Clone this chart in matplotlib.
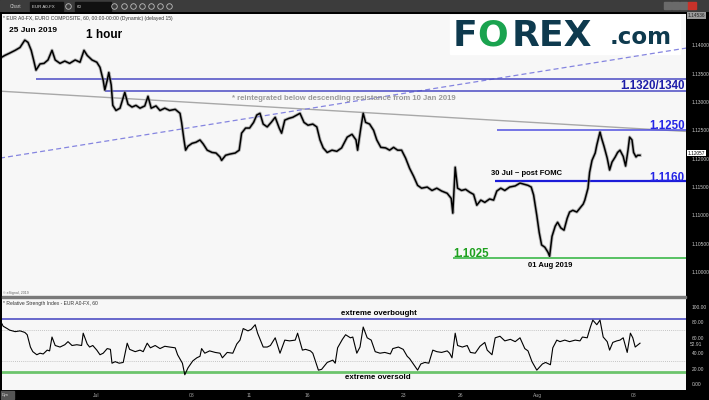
import matplotlib
matplotlib.use('Agg')
import matplotlib.pyplot as plt
from matplotlib.patches import Rectangle
from matplotlib.ticker import FormatStrFormatter

plt.rcParams['font.family'] = ['Liberation Sans', 'DejaVu Sans']

# hour index since Mon 24 Jun 2019 00:00, weekends skipped
price_hours = [0, 6, 12, 19, 25, 31, 35, 39, 42, 45,
               50, 55, 60, 65, 69, 75, 81, 87, 94, 100,
               105, 109, 115, 121, 125, 129, 131, 134, 136, 139,
               141, 145, 150, 156, 160, 165, 170, 175, 181, 185,
               189, 195, 200, 206, 212, 219, 225, 227, 230, 232,
               235, 240, 245, 250, 254, 259, 265, 270, 275, 277,
               282, 287, 294, 299, 302, 307, 312, 317, 321, 325,
               329, 334, 339, 344, 349, 352, 356, 361, 366, 371,
               375, 380, 385, 391, 396, 400, 404, 409, 415, 421,
               427, 434, 440, 445, 447, 451, 454, 457, 462, 467,
               471, 476, 482, 487, 492, 497, 502, 507, 512, 517,
               522, 527, 534, 540, 546, 552, 559, 564, 566, 569,
               572, 577, 582, 587, 592, 596, 601, 606, 612, 617,
               621, 626, 631, 637, 644, 650, 655, 660, 664, 667,
               671, 674, 677, 681, 685, 687, 690, 694, 697, 701,
               705, 709, 712, 716, 721, 725, 729, 731, 735, 737,
               740, 744, 746, 750, 752, 755, 759, 762, 765, 769,
               772, 775, 779, 782, 785, 787, 790, 792, 795, 797,
               800]
price_close = [1.1377, 1.1382, 1.1386, 1.1391, 1.1396, 1.1409, 1.1405, 1.1391, 1.1374, 1.1356,
               1.1367, 1.1368, 1.1374, 1.1391, 1.1374, 1.1368, 1.1372, 1.1368, 1.1374, 1.1370,
               1.1391, 1.1382, 1.1374, 1.1370, 1.1361, 1.1338, 1.1321, 1.1338, 1.1352, 1.1330,
               1.1294, 1.1285, 1.1289, 1.1317, 1.1296, 1.1291, 1.1294, 1.1289, 1.1293, 1.1310,
               1.1289, 1.1293, 1.1285, 1.1289, 1.1285, 1.1287, 1.1280, 1.1264, 1.1233, 1.1215,
               1.1222, 1.1227, 1.1229, 1.1233, 1.1226, 1.1215, 1.1211, 1.1210, 1.1203, 1.1197,
               1.1206, 1.1208, 1.1210, 1.1215, 1.1245, 1.1254, 1.1254, 1.1264, 1.1277, 1.1280,
               1.1261, 1.1256, 1.1264, 1.1273, 1.1254, 1.1245, 1.1268, 1.1271, 1.1273, 1.1277,
               1.1280, 1.1264, 1.1259, 1.1261, 1.1256, 1.1233, 1.1219, 1.1211, 1.1215, 1.1213,
               1.1219, 1.1238, 1.1243, 1.1233, 1.1215, 1.1254, 1.1280, 1.1264, 1.1261, 1.1250,
               1.1233, 1.1220, 1.1219, 1.1215, 1.1220, 1.1215, 1.1215, 1.1201, 1.1183, 1.1169,
               1.1153, 1.1148, 1.1150, 1.1144, 1.1148, 1.1143, 1.1139, 1.1130, 1.1104, 1.1185,
               1.1148, 1.1144, 1.1146, 1.1141, 1.1137, 1.1118, 1.1127, 1.1123, 1.1129, 1.1127,
               1.1143, 1.1148, 1.1144, 1.1150, 1.1152, 1.1157, 1.1155, 1.1153, 1.1150, 1.1136,
               1.1100, 1.1070, 1.1048, 1.1044, 1.1035, 1.1028, 1.1063, 1.1081, 1.1088, 1.1078,
               1.1074, 1.1095, 1.1106, 1.1109, 1.1106, 1.1113, 1.1120, 1.1127, 1.1148, 1.1176,
               1.1197, 1.1210, 1.1224, 1.1247, 1.1236, 1.1222, 1.1201, 1.1180, 1.1194, 1.1203,
               1.1211, 1.1215, 1.1204, 1.1187, 1.1215, 1.1238, 1.1233, 1.1211, 1.1203, 1.1206,
               1.1206]

rsi_hours = [0, 4, 9, 12, 19, 25, 31, 34, 38, 41,
             46, 50, 54, 59, 62, 65, 69, 75, 81, 85,
             90, 96, 102, 104, 109, 112, 116, 121, 125, 129,
             134, 138, 140, 144, 149, 154, 159, 162, 169, 175,
             179, 184, 188, 194, 200, 206, 212, 219, 222, 228,
             231, 235, 241, 246, 250, 252, 256, 262, 269, 275,
             278, 284, 291, 296, 300, 304, 310, 314, 319, 322,
             329, 334, 338, 344, 350, 356, 362, 369, 372, 378,
             382, 388, 391, 398, 402, 409, 416, 419, 422, 428,
             432, 438, 441, 446, 450, 454, 459, 464, 469, 475,
             481, 488, 491, 498, 504, 509, 512, 518, 522, 526,
             531, 536, 541, 546, 552, 559, 562, 565, 569, 572,
             578, 584, 588, 594, 600, 606, 609, 615, 619, 625,
             631, 638, 644, 650, 656, 660, 665, 671, 678, 682,
             688, 691, 696, 700, 706, 712, 719, 725, 728, 734,
             738, 741, 746, 750, 754, 759, 762, 766, 771, 775,
             779, 784, 788, 791, 794, 800]
rsi_values = [83, 75, 72, 70, 68, 69, 67, 64, 48, 42,
              38, 40, 39, 44, 43, 61, 50, 48, 51, 55,
              50, 51, 50, 66, 52, 48, 50, 44, 38, 40,
              46, 45, 27, 29, 27, 28, 53, 45, 42, 44,
              42, 53, 47, 50, 46, 49, 48, 47, 38, 27,
              12, 21, 30, 34, 36, 46, 40, 43, 41, 40,
              34, 41, 40, 52, 57, 72, 69, 71, 77, 66,
              48, 48, 50, 60, 40, 57, 56, 57, 66, 44,
              45, 43, 40, 18, 19, 28, 31, 27, 47, 58,
              64, 60, 61, 40, 48, 74, 60, 57, 42, 40,
              41, 39, 46, 48, 45, 36, 33, 24, 18, 26,
              28, 27, 44, 42, 41, 43, 40, 34, 66, 50,
              48, 50, 41, 40, 49, 54, 44, 38, 60, 62,
              56, 58, 55, 60, 46, 43, 29, 18, 26, 28,
              25, 47, 57, 55, 57, 55, 57, 56, 61, 60,
              74, 83, 77, 83, 61, 55, 44, 54, 56, 57,
              60, 41, 66, 60, 48, 53]

tick_hours = [120, 240, 312, 384, 504, 576, 672, 792]
tick_labels = ['Jul', '08', '11', '16', '23', '26', 'Aug', '08']

price_ticks = [1.10, 1.105, 1.11, 1.115, 1.12, 1.125, 1.13, 1.135, 1.14]
rsi_ticks = [0, 20, 40, 60, 80, 100]

level_prices = [1.1340, 1.1320, 1.1250, 1.1160, 1.1025]
level_start = [45, 131, 621, 619, 566]
level_colors = ['#4a4ac4', '#4a4ac4', '#5050e0', '#1c1cd8', '#3cb84a']
level_widths = [1.1, 1.1, 1.1, 1.6, 1.2]

resist_hours = [0, 858]
resist_prices = [1.1319, 1.1248]
support_hours = [0, 858]
support_prices = [1.1201, 1.1395]

last_price = 1.12057
last_rsi = 52.91
top_price = 1.14536

W, H = 709, 400


def rect(x0, y0, x1, y1):
    return [x0 / W, 1 - y1 / H, (x1 - x0) / W, (y1 - y0) / H]


fig = plt.figure(figsize=(7.09, 4.0), dpi=100, facecolor='black')

# toolbar
tb = fig.add_axes(rect(0, 0, 709, 12))
tb.set_xlim(0, 709)
tb.set_ylim(12, 0)
tb.axis('off')
tb.add_patch(Rectangle((0, 0), 709, 12, color='#3c3c3c'))
tb.text(10, 6.5, 'Chart', color='#c8c8c8', fontsize=3.4, va='center')
tb.add_patch(Rectangle((30, 2), 33, 8.5, color='#111111'))
tb.text(32, 6.5, 'EUR A0-FX', color='#dddddd', fontsize=3.2, va='center')
tb.add_patch(Rectangle((75, 2), 36, 8.5, color='#111111'))
tb.text(77, 6.5, '60', color='#dddddd', fontsize=3.2, va='center')
for cx in [68, 114, 124, 133, 142, 151, 160, 169]:
    tb.plot(cx, 6.2, marker='o', ms=4, mfc='none', mec='#bdbdbd', mew=0.6)
for cx in [664, 672, 680]:
    tb.add_patch(Rectangle((cx, 2), 6.5, 7, color='#6a6a6a'))
tb.add_patch(Rectangle((688, 2), 8, 7, color='#c8322a'))

# price panel
ax = fig.add_axes(rect(2, 14, 686, 296))
ax.set_facecolor('#f7f7f7')
for s in ax.spines.values():
    s.set_visible(False)
ax.set_xlim(2.5, 857.5)
ax.set_ylim(1.0958, 1.1455)
ax.set_xticks([])
ax.yaxis.tick_right()
ax.set_yticks(price_ticks)
ax.yaxis.set_major_formatter(FormatStrFormatter('%.5f'))
ax.tick_params(axis='y', length=0, pad=4, labelsize=3.5, labelcolor='#c8c8c8')

ax.plot(resist_hours, resist_prices, color='#a8a8a8', lw=1.0, zorder=2)
ax.plot(support_hours, support_prices, color='#8585e0', lw=0.9, ls=(0, (4, 2.5)), zorder=2)
for p, st, c, w in zip(level_prices, level_start, level_colors, level_widths):
    ax.hlines(p, st, 857.5, color=c, lw=w, zorder=2)

ax.plot(price_hours, price_close, color='#8a8a8a', lw=2.4, alpha=0.6, zorder=3)
ax.plot(price_hours, price_close, color='black', lw=1.1, zorder=4)

bold = dict(fontweight='bold')
ax.text(11, 1.14264, '25 Jun 2019', fontsize=6, va='center', **bold)
ax.text(107, 1.14176, '1 hour', fontsize=8.5, va='center', **bold)
ax.text(290, 1.13066, '* reintegrated below descending resistance from 10 Jan 2019',
        fontsize=5.6, color='#9a9a9a', va='center', **bold)
ax.text(856, 1.1322, '1.1320/1340', fontsize=8.3, color='#1c1ca8', ha='right', va='baseline', **bold)
ax.text(856, 1.12515, '1.1250', fontsize=8.3, color='#2424e6', ha='right', va='baseline', **bold)
ax.text(856, 1.11615, '1.1160', fontsize=8.3, color='#2424e6', ha='right', va='baseline', **bold)
ax.text(567, 1.10265, '1.1025', fontsize=8.3, color='#1ea01e', ha='left', va='baseline', **bold)
ax.text(614, 1.11745, '30 Jul ~ post FOMC', fontsize=5.5, va='center', **bold)
ax.text(660, 1.10123, '01 Aug 2019', fontsize=5.5, va='center', **bold)

# logo
ax.add_patch(Rectangle((562, 1.1385), 288, 0.0068, color='white', zorder=1))
logo = dict(fontsize=26, va='center', family='DejaVu Sans', fontweight='bold')
fig.text(453 / W, 1 - 36 / H, 'F', color='#0e3a4e', **logo)
fig.text(477 / W, 1 - 36 / H, 'O', color='#1aa34f', **logo)
fig.text(512 / W, 1 - 36 / H, 'REX', color='#0e3a4e', **logo)
fig.text(610 / W, 1 - 37 / H, '.com', fontsize=16.5, color='#0e3a4e', va='center',
         family='DejaVu Sans', fontweight='bold')

# rsi panel
rx = fig.add_axes(rect(2, 298, 686, 390))
rx.set_facecolor('#f7f7f7')
for s in rx.spines.values():
    s.set_visible(False)
rx.set_xlim(2.5, 857.5)
rx.set_ylim(-7.8, 111.7)
rx.yaxis.tick_right()
rx.set_yticks(rsi_ticks)
rx.yaxis.set_major_formatter(FormatStrFormatter('%.2f'))
rx.tick_params(axis='y', length=0, pad=4, labelsize=3.5, labelcolor='#c8c8c8')
rx.set_xticks(tick_hours)
rx.set_xticklabels(tick_labels)
rx.tick_params(axis='x', length=0, pad=2.2, labelsize=3.6, labelcolor='#a0a0a0')

rx.axhline(85, color='#5050c4', lw=1.2)
rx.axhline(15, color='#6cc46c', lw=2.0)
rx.axhline(70, color='#b4b4b4', lw=0.6, ls=(0, (1, 1.5)))
rx.axhline(30, color='#b4b4b4', lw=0.6, ls=(0, (1, 1.5)))
rx.plot(rsi_hours, rsi_values, color='black', lw=0.8)
rx.text(474, 92, 'extreme overbought', fontsize=5.7, ha='center', va='center', **bold)
rx.text(472, 7.8, 'extreme oversold', fontsize=5.7, ha='center', va='center', **bold)

# side labels and captions
fig.text(688 / W, 1 - 153 / H, '%.5f' % last_price, fontsize=3.4, va='center',
         bbox=dict(boxstyle='square,pad=0.15', fc='white', ec='none'))
fig.text(688 / W, 1 - 15.5 / H, '%.5f' % top_price, fontsize=3.4, va='center', color='#222222',
         bbox=dict(boxstyle='square,pad=0.15', fc='#9a9a9a', ec='none'))
fig.text(690 / W, 1 - 344 / H, '%.2f' % last_rsi, fontsize=3.5, va='center', color='#c8c8c8')
fig.text(3 / W, 1 - 18.5 / H, '* EUR A0-FX, EURO COMPOSITE, 60, 00:00-00:00 (Dynamic) (delayed 15)',
         fontsize=3.6, color='#333333', va='center')
fig.text(3 / W, 1 - 293 / H, '\u00a9 eSignal, 2019', fontsize=2.6, color='#666666', va='center')
fig.text(3 / W, 1 - 303 / H, '* Relative Strength Index - EUR A0-FX, 60',
         fontsize=3.6, color='#333333', va='center')
fig.patches.append(Rectangle((2 / W, 1 - 298 / H), 684 / W, 2 / H, transform=fig.transFigure,
                             color='#7a7a7a'))
fig.patches.append(Rectangle((1 / W, 1 - 399 / H), 13 / W, 8 / H, transform=fig.transFigure,
                             color='#555555'))
fig.text(2 / W, 1 - 395 / H, 'Dyn', fontsize=2.8, color='#dddddd', va='center')

fig.savefig('out.png', dpi=100, facecolor=fig.get_facecolor())
